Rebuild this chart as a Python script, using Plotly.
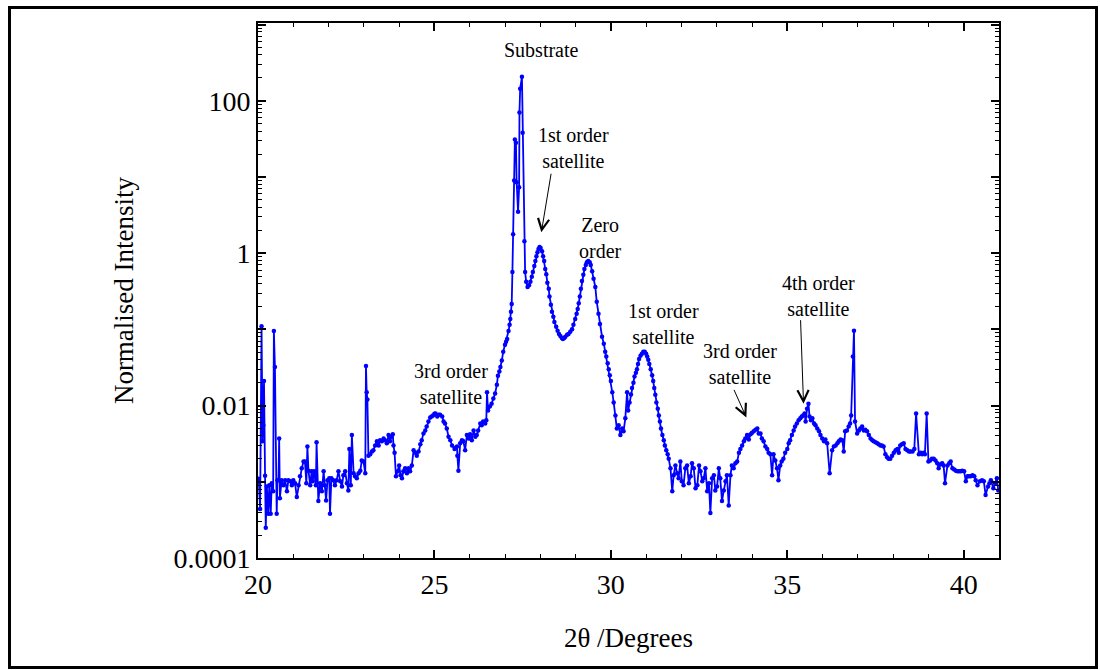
import math
import plotly.graph_objects as go

# ---- data (2theta in degrees, normalised intensity) ----
theta_bg_low = [20.02,20.06,20.10,20.13,20.15,20.17,20.20,20.22,20.25,20.29,
                20.32,20.36,20.39,20.43,20.45,20.48,20.53,20.55,20.58,20.60,
                20.62,20.67,20.72,20.77,20.82,20.86,20.91,20.96,21.00,21.05,
                21.10,21.15,21.19,21.24,21.29,21.33,21.37,21.40,21.43,21.48,
                21.52,21.55,21.59,21.64,21.66,21.71,21.76,21.81,21.86,21.89,
                21.93,21.97,22.02,22.04,22.08,22.13,22.18,22.23,22.28,22.33,
                22.38,22.42,22.47,22.52,22.56,22.59,22.63,22.66,22.71,22.75,
                22.80,22.85,22.90,22.94,22.99,23.04]
int_bg_low = [0.0011,0.00044,0.11,0.0034,0.0055,0.021,0.0012,0.00025,0.00087,0.00038,
              0.0009,0.00038,0.00096,0.00075,0.095,0.032,0.00038,0.00105,0.00105,0.0037,
              0.00061,0.00105,0.0009,0.00105,0.00075,0.00105,0.00102,0.0009,0.00105,0.00096,
              0.00063,0.0009,0.00118,0.0015,0.00185,0.00185,0.00096,0.0029,0.0014,0.0009,
              0.00137,0.00102,0.00137,0.0009,0.0033,0.00056,0.00096,0.00075,0.00137,0.0009,
              0.00057,0.00105,0.00111,0.00038,0.00111,0.00105,0.0009,0.00105,0.00137,0.00102,
              0.00087,0.00122,0.00137,0.00096,0.00077,0.0027,0.0009,0.0041,0.00129,0.00118,
              0.00111,0.00129,0.0014,0.0019,0.00185,0.00129]

theta_sat3_left = [23.06,23.08,23.10,23.13,23.18,23.23,23.27,23.32,23.37,23.42,
                   23.46,23.51,23.56,23.60,23.65,23.70,23.74,23.78,23.82,23.84,
                   23.87,23.91,23.96,24.00,24.04,24.08,24.12,24.17,24.22,24.27,
                   24.31,24.36,24.41,24.46,24.50,24.55,24.60,24.64,24.69,24.74,
                   24.78,24.83,24.88,24.92,24.96,25.00,25.03,25.08,25.12,25.16,
                   25.22,25.26,25.30,25.35,25.40,25.45,25.50,25.57,25.61,25.64,
                   25.65,25.68,25.73,25.78,25.82,25.87,25.92,25.97,26.01,26.06,
                   26.11,26.16,26.20,26.24,26.30,26.34,26.38,26.44,26.47,26.49,
                   26.52,26.57,26.62,26.67,26.72,26.77,26.80,26.84,26.87,26.91,
                   26.95,27.00,27.03,27.06,27.10,27.13,27.15,27.17,27.19]
int_sat3_left = [0.033,0.015,0.012,0.0022,0.0023,0.0025,0.0026,0.0030,0.0034,0.0030,
                 0.0035,0.0034,0.0037,0.0035,0.0032,0.0041,0.0034,0.0039,0.0042,0.0030,
                 0.0024,0.00118,0.00137,0.00164,0.00122,0.00111,0.00137,0.0015,0.00129,0.0015,
                 0.00137,0.00164,0.0026,0.0024,0.0022,0.0025,0.0031,0.0035,0.0043,0.0047,
                 0.0053,0.0062,0.0070,0.0072,0.0074,0.0078,0.0079,0.0072,0.0076,0.0076,
                 0.0072,0.0062,0.0058,0.0050,0.0039,0.0035,0.0030,0.0027,0.0028,0.0029,
                 0.0022,0.0014,0.0032,0.0035,0.0034,0.0026,0.0041,0.0037,0.0042,0.0035,
                 0.0047,0.0039,0.0041,0.0047,0.0058,0.0055,0.0062,0.0058,0.0064,0.015,
                 0.0086,0.0097,0.0106,0.0124,0.0144,0.0188,0.0247,0.028,0.032,0.039,
                 0.051,0.063,0.069,0.075,0.095,0.115,0.137,0.17,0.215]

theta_main = [27.21,27.23,27.26,27.28,27.31,27.33,27.37,27.40,27.41,27.43,
              27.48,27.50,27.55,27.57,27.60,27.64,27.68,27.72,27.76,27.79,
              27.83,27.86,27.89,27.92,27.95,27.98,28.01,28.05,28.08,28.11,
              28.14,28.17,28.20,28.24,28.26,28.30,28.33,28.37,28.40,28.45,
              28.49,28.53,28.57,28.61,28.64,28.68,28.71,28.76,28.80,28.85,
              28.90,28.94,28.99,29.03,29.06,29.09,29.12,29.15,29.18,29.22,
              29.25,29.29,29.32,29.36,29.40,29.43,29.47,29.51,29.56,29.60,
              29.65,29.69,29.75,29.80,29.84,29.87,29.91,29.94,29.97,30.00,
              30.04,30.08,30.13,30.17,30.22,30.27,30.32,30.36,30.41,30.46,
              30.49,30.53,30.57,30.60,30.64,30.67,30.71,30.74,30.77,30.80,
              30.84,30.88,30.92,30.96,31.00,31.03,31.06,31.09,31.13,31.17,
              31.20,31.23,31.26,31.29,31.33,31.36,31.39,31.42,31.46,31.50,
              31.53,31.57,31.61,31.64]
int_main = [0.565,1.77,9.0,31,28,8.5,3.5,7.3,70,144,
            206,38,1.43,0.565,0.42,0.36,0.38,0.42,0.49,0.565,
            0.68,0.79,0.91,1.03,1.13,1.20,1.17,1.06,0.91,0.79,
            0.62,0.53,0.41,0.34,0.27,0.21,0.17,0.146,0.125,0.108,
            0.096,0.087,0.082,0.077,0.075,0.077,0.080,0.085,0.087,0.093,
            0.10,0.115,0.137,0.16,0.185,0.22,0.27,0.34,0.43,0.52,
            0.62,0.70,0.76,0.79,0.76,0.70,0.58,0.46,0.36,0.23,
            0.16,0.118,0.080,0.065,0.051,0.044,0.036,0.030,0.025,0.021,
            0.015,0.011,0.0074,0.0050,0.0055,0.0041,0.0050,0.0046,0.0068,0.015,
            0.0086,0.011,0.014,0.017,0.020,0.024,0.027,0.030,0.035,0.041,
            0.045,0.048,0.051,0.051,0.048,0.044,0.040,0.035,0.030,0.025,
            0.021,0.017,0.0139,0.011,0.0091,0.0074,0.0062,0.0050,0.0041,0.0035,
            0.0030,0.0026,0.0023,0.0020]

theta_bg_high = [31.69,31.74,31.78,31.83,31.88,31.92,31.97,32.01,32.06,32.11,
                 32.16,32.21,32.26,32.30,32.35,32.40,32.45,32.50,32.54,32.59,
                 32.63,32.68,32.73,32.78,32.82,32.87,32.92,32.96,33.01,33.06,
                 33.10,33.15,33.20,33.25,33.29,33.34,33.39,33.43,33.48,33.53,
                 33.58,33.63,33.67,33.72,33.77,33.81,33.86,33.91,33.96,34.00,
                 34.05,34.10,34.15,34.19,34.24,34.28,34.33,34.38,34.43,34.47,
                 34.52,34.57,34.61,34.66,34.71,34.75,34.80,34.84,34.89,34.94,
                 35.00,35.04,35.08,35.13,35.18,35.22,35.27,35.32,35.37,35.41,
                 35.45,35.49,35.52,35.56,35.60,35.63,35.67,35.71,35.76,35.80,
                 35.85,35.90,35.94,35.99,36.04,36.08,36.13,36.20,36.27,36.32,
                 36.37,36.42,36.46,36.51,36.56,36.60,36.64,36.69,36.74,36.78,
                 36.81,36.86,36.89,36.92,36.98,37.03,37.07,37.12,37.17,37.21,
                 37.26,37.31,37.36,37.41,37.45,37.50,37.55,37.59,37.64,37.68,
                 37.73,37.78,37.83,37.87,37.92,37.97,38.02,38.07,38.12,38.16,
                 38.20,38.25,38.30,38.35,38.40,38.45,38.49,38.55,38.60,38.65,
                 38.73,38.78,38.82,38.87,38.90,38.95,39.00,39.05,39.10,39.15,
                 39.20,39.25,39.29,39.34,39.39,39.43,39.47,39.54,39.59,39.63,
                 39.68,39.73,39.78,39.82,39.87,39.92,39.96,40.01,40.06,40.11,
                 40.15,40.20,40.25,40.30,40.34,40.39,40.46,40.52,40.57,40.62,
                 40.69,40.73,40.77,40.84,40.89,40.94,40.98]
int_bg_high = [0.0015,0.00075,0.00122,0.00164,0.00129,0.00111,0.00185,0.00102,0.0009,0.0015,
               0.00164,0.00096,0.00118,0.00175,0.0015,0.00082,0.0009,0.00164,0.00137,0.00102,
               0.00111,0.0015,0.00075,0.00096,0.00039,0.00111,0.00122,0.00077,0.00087,0.0015,
               0.00111,0.00056,0.00077,0.00102,0.00122,0.00049,0.00122,0.00164,0.0015,0.00175,
               0.00185,0.0024,0.0027,0.0030,0.0034,0.0037,0.0041,0.0036,0.0042,0.0044,
               0.0046,0.0048,0.0050,0.0043,0.0043,0.0037,0.0034,0.0029,0.0027,0.0024,
               0.0023,0.00122,0.0023,0.0019,0.0015,0.00105,0.00164,0.00185,0.0020,0.0024,
               0.0027,0.0032,0.0035,0.0041,0.0047,0.0053,0.0058,0.0064,0.0068,0.0072,
               0.0074,0.0079,0.0062,0.0091,0.0106,0.0072,0.0064,0.0068,0.0058,0.0055,
               0.0050,0.0046,0.0041,0.0037,0.0034,0.0036,0.0032,0.00129,0.0026,0.0029,
               0.0030,0.0032,0.0034,0.0036,0.0035,0.0025,0.0046,0.0047,0.0053,0.0058,
               0.0074,0.044,0.096,0.0062,0.0043,0.0047,0.0050,0.0053,0.0047,0.0048,
               0.0046,0.0041,0.0037,0.0035,0.0034,0.0033,0.0032,0.0031,0.0030,0.0030,
               0.0029,0.0023,0.0021,0.0020,0.0020,0.0022,0.0024,0.0026,0.0027,0.0024,
               0.0030,0.0031,0.0032,0.0027,0.0026,0.0025,0.0025,0.0025,0.0027,0.0079,
               0.0023,0.0024,0.0023,0.0024,0.0023,0.0079,0.00185,0.0019,0.0020,0.0020,
               0.0019,0.00175,0.0015,0.0017,0.00175,0.00164,0.00096,0.00164,0.00175,0.00185,
               0.0015,0.00145,0.0014,0.00137,0.00137,0.00137,0.0014,0.00137,0.00102,0.00118,
               0.00118,0.00118,0.00122,0.00118,0.00105,0.0009,0.00102,0.00105,0.00102,0.00067,
               0.00087,0.00096,0.00105,0.00082,0.00096,0.00111,0.00077]

x_ticks = [20, 25, 30, 35, 40]
y_ticks = [1e-4, 1e-3, 1e-2, 1e-1, 1, 10, 100, 1000]
y_tick_labels = ["0.0001", "", "0.01", "", "1", "", "100", ""]

# annotation labels: (text, 2theta, intensity at label centre)
peak_labels = [
    ("Substrate", 28.03, 464),
    ("1st order<br>satellite", 28.94, 24),
    ("Zero<br>order", 29.70, 1.57),
    ("1st order<br>satellite", 31.49, 0.118),
    ("3rd order<br>satellite", 33.67, 0.035),
    ("4th order<br>satellite", 35.89, 0.274),
    ("3rd order<br>satellite", 25.48, 0.0194),
]
# arrows: (tip 2theta, tip intensity, tail offset x px, tail offset y px)
peak_arrows = [(28.03, 1.88, 10, -60), (33.84, 0.0070, -13, -29), (35.46, 0.0106, -3, -85)]

assert len(theta_bg_low) == len(int_bg_low)
assert len(theta_sat3_left) == len(int_sat3_left)
assert len(theta_main) == len(int_main)
assert len(theta_bg_high) == len(int_bg_high)

two_theta = theta_bg_low + theta_sat3_left + theta_main + theta_bg_high
intensity = int_bg_low + int_sat3_left + int_main + int_bg_high

FONT = "Liberation Serif"
BLUE = "#0000ff"

fig = go.Figure()
fig.add_trace(go.Scatter(
    x=two_theta, y=intensity, mode="lines+markers",
    line=dict(color=BLUE, width=1.8),
    marker=dict(color=BLUE, size=4.5),
    showlegend=False, hoverinfo="skip"))

minor_y = [k * 10.0 ** e for e in range(-4, 3) for k in range(2, 10)]

fig.update_xaxes(
    range=[20, 41], tickmode="array", tickvals=x_ticks,
    ticks="inside", ticklen=8, tickwidth=1.5, tickcolor="black",
    showline=True, linewidth=2, linecolor="black", mirror="ticks",
    showgrid=False, zeroline=False,
    minor=dict(tickmode="linear", tick0=20, dtick=1, ticks="inside", ticklen=4,
               tickcolor="black", tickwidth=1, showgrid=False),
    tickfont=dict(family=FONT, size=28, color="black"),
    title=dict(text="2θ /Degrees", font=dict(family=FONT, size=27, color="black"), standoff=30))

fig.update_yaxes(
    type="log", range=[-4, 3.02], tickmode="array",
    tickvals=y_ticks, ticktext=y_tick_labels,
    ticks="inside", ticklen=8, tickwidth=1.5, tickcolor="black",
    showline=True, linewidth=2, linecolor="black", mirror="ticks",
    showgrid=False, zeroline=False,
    minor=dict(tickmode="array", tickvals=minor_y, ticks="inside", ticklen=4,
               tickcolor="black", tickwidth=1, showgrid=False),
    tickfont=dict(family=FONT, size=28, color="black"),
    title=dict(text="Normalised Intensity", font=dict(family=FONT, size=27, color="black"), standoff=32))

ann_font = dict(family=FONT, size=20, color="black")
for txt, lx, ly in peak_labels:
    fig.add_annotation(x=lx, y=math.log10(ly), text=txt, showarrow=False,
                       font=ann_font, xanchor="center", yanchor="middle", align="center")

for tx, ty, dx, dy in peak_arrows:
    fig.add_annotation(x=tx, y=math.log10(ty), text="", showarrow=True, arrowhead=5,
                       arrowsize=2.2, arrowwidth=1, arrowcolor="black", ax=dx, ay=dy)

# outer frame around the whole picture
fig.add_shape(type="rect", xref="paper", yref="paper",
              x0=(9.5 - 258) / 741, x1=(1096.5 - 258) / 741,
              y0=(558 - 667.5) / 535, y1=(558 - 7.5) / 535,
              line=dict(color="black", width=3), fillcolor="rgba(0,0,0,0)")

fig.update_layout(
    width=1100, height=670,
    margin=dict(l=258, r=101, t=23, b=112, autoexpand=False),
    paper_bgcolor="white", plot_bgcolor="white",
    font=dict(family=FONT, color="black"),
)

fig.write_html("out.html")
